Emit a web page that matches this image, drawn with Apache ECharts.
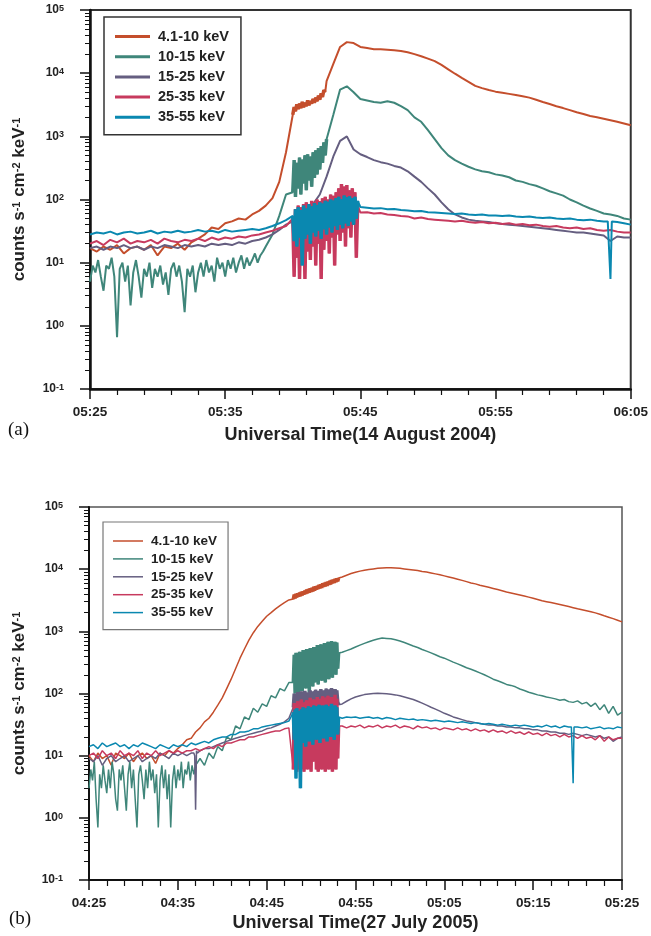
<!DOCTYPE html>
<html>
<head>
<meta charset="utf-8">
<script src="https://cdn.jsdelivr.net/npm/echarts@6/dist/echarts.min.js"></script>
<style>
html, body { margin: 0; padding: 0; background: #fff; }
#chart { width: 651px; height: 936px; }
</style>
</head>
<body>
<div id="chart"></div>
<script>
// energy bands and their colours
const bands = ['4.1-10 keV', '10-15 keV', '15-25 keV', '25-35 keV', '35-55 keV'];
const colors = ['#c44e2c', '#3f867a', '#655e80', '#c73a5e', '#0a88b0'];

const ticksA = ['05:25', '05:35', '05:45', '05:55', '06:05'];
const ticksB = ['04:25', '04:35', '04:45', '04:55', '05:05', '05:15', '05:25'];
const minorLog = [0.2, 0.3, 0.4, 0.5, 0.6, 0.7, 0.8, 0.9, 2, 3, 4, 5, 6, 7, 8, 9,
  20, 30, 40, 50, 60, 70, 80, 90, 200, 300, 400, 500, 600, 700, 800, 900,
  2000, 3000, 4000, 5000, 6000, 7000, 8000, 9000,
  20000, 30000, 40000, 50000, 60000, 70000, 80000, 90000];

// (a) 14 August 2004: one value every 30 s from 05:25 (minutes 0..40)
const aOrange = [17, 15, 18, 16, 19, 14, 17, 18, 16, 19, 13, 18, 17, 20, 16, 21,
  24, 28, 36, 34, 42, 45, 50, 48, 58, 66, 80, 105, 190, 560,
  2000, 2900, 3300, 3800, 5000, 7500, 14000, 26000, 31000, 30000,
  26000, 25000, 24000, 24000, 23500, 23000, 22500, 21500, 20000, 18500,
  17000, 15500, 13500, 11500, 9800, 8400, 7300, 6300, 5800, 5400,
  5100, 4900, 4700, 4500, 4300, 4100, 3800, 3500, 3250, 3000,
  2800, 2600, 2400, 2250, 2100, 2000, 1900, 1800, 1700, 1600, 1500];
const aTeal = [5, 9, 7, 10, 0.7, 8, 2.1, 9, 6, 8, 4, 9, 7, 5, 1.7,
  8, 6, 10, 7, 12, 8, 11, 9, 13, 10, 13, 18, 28, 55, 120,
  200, 300, 400, 500, 600, 800, 2200, 5500, 6200, 5000,
  3900, 3700, 3500, 3400, 3600, 3400, 3000, 2600, 2000, 1700,
  1250, 900, 650, 500, 420, 370, 330, 300, 280, 270,
  250, 240, 225, 200, 190, 175, 165, 150, 135, 125,
  115, 100, 90, 80, 72, 66, 60, 58, 55, 50, 48];
const aPurple = [17, 18, 16, 18, 17, 19, 17, 18, 16, 18, 17, 19, 18, 17, 19,
  18, 19, 18, 20, 19, 20, 19, 21, 20, 22, 23, 25, 28, 33, 40,
  45, 55, 70, 85, 120, 230, 480, 850, 1000, 620,
  520, 470, 420, 390, 370, 340, 320, 280, 230, 190,
  150, 120, 90, 70, 58, 52, 48, 46, 45, 44,
  42, 41, 40, 39, 38, 37, 36, 35, 34, 33,
  32, 31, 30, 30, 29, 28, 27, 22, 26, 25, 25];
const aPink = [20, 22, 19, 23, 21, 24, 20, 22, 21, 23, 20, 24, 22, 21, 23,
  22, 24, 22, 25, 23, 25, 24, 26, 25, 27, 28, 30, 32, 35, 38,
  40, 45, 50, 55, 60, 65, 70, 75, 80, 70,
  62, 63, 60, 61, 58, 57, 55, 54, 50, 52,
  49, 48, 47, 46, 45, 46, 44, 43, 44, 42,
  43, 41, 42, 40, 41, 39, 40, 38, 37, 38,
  36, 35, 36, 34, 35, 33, 32, 33, 31, 30, 30];
const aBlue = [28, 30, 29, 31, 28, 30, 31, 29, 30, 32, 29, 31, 30, 32, 30,
  31, 33, 31, 32, 30, 33, 31, 32, 33, 34, 33, 35, 38, 42, 47,
  50, 55, 60, 65, 70, 75, 80, 85, 90, 80,
  76, 74, 72, 73, 70, 71, 68, 67, 65, 66,
  63, 62, 61, 60, 59, 60, 58, 57, 58, 56,
  56, 55, 56, 54, 53, 54, 52, 51, 52, 50,
  49, 50, 48, 47, 48, 46, 45, 44, 44, 42, 40];

// (a) 10-15 keV before the flare, one value every 12 s (minutes 0..13)
const aTealEarly = [5, 9, 7, 11, 6, 3.6, 9, 8, 12, 6,
  0.66, 8, 10, 5, 9, 2.1, 7, 11, 6, 2.8,
  8, 6, 10, 4, 8, 6, 9, 4.5, 7, 3.1,
  8, 10, 6, 9, 5, 1.65, 8, 6, 9, 3.4,
  7, 10, 6, 11, 7, 9, 5, 12, 8, 10,
  6, 11, 8, 12, 7, 10, 13, 8, 12, 9,
  11, 14, 10, 13, 15, 18];
// (a) 35-55 keV drop-out near 06:03, one value every 6 s from minute 38.3
const aBlueDrop = [45, 46, 5.5, 45, 44];

// (a) fast-sampled stretches, one value every 6 s from minute 15
const aOrangeBurst = [2200, 2900, 2500, 3200, 2700, 3300, 2800, 3500, 2900, 3400,
  3000, 3700, 3100, 3600, 3300, 3900, 3400, 4100, 3600, 4400,
  3800, 4800, 4200, 5400, 5000];
const aTealBurst = [130, 420, 110, 380, 150, 460, 120, 430, 180, 500,
  140, 520, 200, 480, 160, 560, 220, 600, 250, 650,
  300, 700, 380, 800, 500, 900];
const aPinkBurst = [50, 6, 70, 12, 80, 5.5, 75, 14, 85, 5.5,
  90, 15, 80, 11, 95, 18, 90, 9, 100, 20,
  95, 5.5, 105, 16, 110, 22, 100, 14, 120, 25,
  115, 9, 130, 28, 150, 22, 175, 30, 160, 18,
  170, 35, 140, 25, 150, 40, 130, 12, 80];
const aBlueBurst = [55, 22, 70, 18, 75, 25, 68, 9, 80, 24,
  72, 28, 85, 20, 78, 30, 88, 26, 82, 32,
  90, 24, 86, 34, 95, 28, 92, 36, 100, 30,
  96, 38, 105, 33, 110, 40, 102, 35, 115, 42,
  108, 38, 112, 45, 105, 40, 110, 50, 95];

// (b) 27 July 2005: one value every 30 s from 04:25 (minutes 0..60)
const bOrange = [10, 8, 11, 9, 10, 7, 11, 10, 9, 11, 8, 10, 11, 9, 10, 7.5, 11, 10, 12, 11,
  13, 15, 18, 19, 24, 28, 35, 40, 50, 65,
  85, 120, 170, 250, 370, 520, 720, 950, 1200, 1450,
  1750, 2000, 2300, 2600, 2900, 3200, 3500, 3900, 4300, 4700,
  5100, 5500, 5900, 6300, 6700, 7000, 7100, 7500, 8000, 8500,
  8900, 9300, 9600, 9900, 10100, 10300, 10400, 10500, 10500, 10400,
  10300, 10100, 9900, 9700, 9500, 9200, 9000, 8700, 8400, 8100,
  7800, 7500, 7200, 6900, 6600, 6300, 6000, 5800, 5500, 5300,
  5100, 4900, 4700, 4500, 4300, 4150, 4000, 3850, 3700, 3550,
  3400, 3250, 3100, 3000, 2900, 2800, 2700, 2600, 2500, 2400,
  2300, 2220, 2140, 2060, 1980, 1880, 1780, 1690, 1600, 1510, 1420];
const bTeal = [3, 6, 0.7, 5, 2, 7, 3, 5, 1.4, 6, 4, 0.7, 5, 3, 8, 0.7, 4, 6, 3, 0.7,
  5, 7, 4, 6, 6, 9, 7, 11, 9, 14,
  12, 20, 18, 30, 27, 42, 38, 58, 50, 68,
  62, 92, 85, 120, 110, 150, 200, 250, 300, 350,
  400, 450, 500, 550, 600, 650, 420, 460, 490, 520,
  560, 600, 640, 680, 720, 750, 780, 770, 760, 730,
  700, 660, 620, 580, 550, 510, 480, 450, 420, 390,
  370, 345, 320, 300, 280, 260, 245, 230, 215, 200,
  185, 170, 160, 150, 140, 135, 128, 118, 112, 105,
  100, 95, 92, 88, 85, 82, 78, 80, 74, 72,
  76, 68, 72, 62, 70, 55, 66, 48, 62, 45, 50];
const bPurple = [9, 8, 10, 7, 9, 10, 8, 9, 10, 8, 9, 10, 8, 9, 10, 9, 11, 10, 9, 11,
  10, 11, 10, 11, 12, 12, 13, 13, 14, 15,
  16, 17, 18, 19, 20, 21, 22, 23, 24, 25,
  27, 28, 30, 32, 35, 40, 45, 50, 55, 58,
  60, 62, 64, 66, 68, 70, 62, 68, 75, 82,
  88, 92, 96, 98, 100, 101, 100, 99, 97, 95,
  92, 88, 84, 80, 75, 70, 65, 60, 56, 52,
  48, 45, 42, 40, 38, 36, 35, 34, 33, 32,
  31, 31, 30, 30, 29, 29, 28, 28, 27, 27,
  26, 26, 25, 25, 24, 24, 23, 23, 22, 23,
  22, 21, 22, 21, 20, 21, 19, 20, 17, 19, 20];
const bPink = [10, 11, 9, 12, 10, 11, 9, 12, 10, 11, 10, 12, 9, 11, 10, 12, 10, 11, 12, 11,
  12, 11, 12, 12, 13, 12, 13, 14, 13, 15,
  14, 16, 16, 17, 18, 18, 20, 20, 21, 22,
  23, 24, 25, 25, 27, 28, 28, 28, 28, 28,
  28, 28, 28, 28, 28, 28, 29, 30, 28, 30,
  29, 31, 28, 30, 29, 31, 28, 30, 29, 31,
  28, 30, 29, 27, 30, 28, 29, 27, 28, 26,
  28, 27, 26, 28, 26, 27, 25, 27, 25, 26,
  24, 26, 24, 25, 23, 25, 23, 24, 22, 24,
  22, 23, 21, 23, 21, 22, 20, 22, 20, 21,
  19, 21, 19, 20, 18, 21, 17, 20, 18, 19, 19];
const bBlue = [14, 15, 13, 16, 14, 15, 16, 14, 15, 13, 15, 14, 16, 15, 14, 13, 15, 14, 13, 15,
  14, 15, 14, 16, 15, 16, 17, 16, 18, 19,
  20, 20, 22, 22, 24, 24, 25, 27, 27, 29,
  30, 31, 32, 33, 34, 36, 38, 38, 38, 38,
  38, 38, 38, 38, 38, 38, 42, 40, 42, 41,
  42, 40, 41, 42, 40, 41, 39, 41, 40, 38,
  40, 39, 38, 39, 37, 38, 37, 36, 37, 36,
  35, 36, 35, 34, 35, 34, 33, 34, 33, 32,
  33, 32, 31, 32, 31, 30, 31, 30, 31, 30,
  29, 30, 29, 31, 29, 30, 28, 30, 29, 29,
  29, 28, 29, 27, 28, 29, 27, 28, 27, 29, 28];

// (b) 10-15 keV before the flare, one value every 12 s (minutes 0..12)
const bTealEarly = [3, 6, 4, 8, 2, 0.7, 5, 3, 7, 4,
  2.5, 6, 3, 8, 5, 2, 1.3, 6, 4, 7,
  3, 1.3, 5, 8, 3, 6, 2, 0.7, 5, 7,
  4, 2, 6, 3, 8, 4, 6, 2.5, 5, 0.7,
  4, 7, 3, 6, 2, 5, 0.7, 4, 7, 3,
  6, 4, 8, 3, 6, 5, 8, 4, 7, 5, 7];
// (b) single-sample drop-outs, one value every 6 s
const bPurpleDrop = [11, 10, 1.35, 12, 11];   // from minute 11.8
const bBlueDrop = [29, 30, 3.6, 29, 28];      // from minute 54.3

// (b) fast-sampled stretch 04:48-04:53, one value every 6 s from minute 23
const bOrangeBurst = [3300, 3900, 3400, 4000, 3500, 4100, 3600, 4200, 3700, 4300,
  3800, 4400, 3900, 4500, 4000, 4700, 4100, 4800, 4200, 4900,
  4300, 5000, 4400, 5200, 4500, 5300, 4700, 5400, 4800, 5600,
  4900, 5700, 5000, 5900, 5200, 6000, 5300, 6200, 5400, 6300,
  5600, 6500, 5700, 6700, 5900, 6800, 6000, 7000, 6200, 7100, 6400, 7200];
const bTealBurst = [150, 420, 100, 450, 130, 380, 95, 470, 140, 430,
  110, 500, 160, 460, 120, 520, 150, 480, 105, 540,
  170, 500, 130, 560, 150, 520, 180, 600, 140, 560,
  190, 620, 160, 580, 200, 650, 150, 600, 210, 680,
  170, 620, 220, 700, 180, 640, 230, 680, 200, 660, 250, 450];
const bPurpleBurst = [60, 100, 55, 95, 65, 105, 58, 98, 62, 108,
  56, 100, 66, 110, 60, 96, 64, 104, 58, 112,
  62, 100, 68, 108, 60, 115, 66, 104, 70, 110,
  62, 118, 68, 106, 72, 112, 64, 120, 70, 108,
  74, 116, 66, 122, 72, 110, 76, 118, 70, 112, 74, 66];
const bPinkBurst = [6, 70, 8, 65, 5.5, 75, 10, 60, 6, 80,
  12, 68, 5.5, 72, 9, 78, 6, 66, 14, 85,
  5.5, 70, 8, 80, 11, 74, 6, 88, 5.5, 76,
  9, 82, 6, 90, 12, 78, 5.5, 86, 8, 92,
  6, 80, 10, 88, 5.5, 84, 7, 95, 6, 82, 9, 30];
const bBlueBurst = [50, 18, 55, 4.3, 58, 15, 52, 20, 3, 56,
  16, 60, 22, 54, 14, 58, 25, 62, 17, 56,
  20, 60, 15, 64, 24, 58, 18, 62, 22, 66,
  16, 60, 26, 64, 19, 58, 23, 66, 17, 62,
  25, 60, 20, 68, 24, 62, 18, 64, 26, 60, 22, 42];

function track(t0, step, vals) {
  return vals.map((v, i) => [+(t0 + i * step).toFixed(2), v]);
}
// put a finer-sampled stretch in place of the slow samples it covers
function withBurst(main, burst) {
  if (!burst) return main;
  const b0 = burst[0][0], b1 = burst[burst.length - 1][0];
  return main.filter(p => p[0] < b0 || p[0] > b1).concat(burst).sort((p, q) => p[0] - q[0]);
}

const burstsA = [
  track(15, 0.1, aOrangeBurst), track(15, 0.1, aTealBurst), null,
  track(15, 0.1, aPinkBurst), track(15, 0.1, aBlueBurst)
];
const burstsB = [
  track(23, 0.1, bOrangeBurst), track(23, 0.1, bTealBurst), track(23, 0.1, bPurpleBurst),
  track(23, 0.1, bPinkBurst), track(23, 0.1, bBlueBurst)
];
const panelA = [
  withBurst(track(0, 0.5, aOrange), burstsA[0]),
  withBurst(withBurst(track(0, 0.5, aTeal), track(0, 0.2, aTealEarly)), burstsA[1]),
  track(0, 0.5, aPurple),
  withBurst(track(0, 0.5, aPink), burstsA[3]),
  withBurst(withBurst(track(0, 0.5, aBlue), burstsA[4]), track(38.3, 0.1, aBlueDrop))
];
const panelB = [
  withBurst(track(0, 0.5, bOrange), burstsB[0]),
  withBurst(withBurst(track(0, 0.5, bTeal), track(0, 0.2, bTealEarly)), burstsB[1]),
  withBurst(withBurst(track(0, 0.5, bPurple), burstsB[2]), track(11.8, 0.1, bPurpleDrop)),
  withBurst(track(0, 0.5, bPink), burstsB[3]),
  withBurst(withBurst(track(0, 0.5, bBlue), burstsB[4]), track(54.3, 0.1, bBlueDrop))
];

const font = '"Liberation Sans", Arial, sans-serif';
const ink = '#222';
const yName = '{n|counts s}{s|-1}{n| cm}{s|-2}{n| keV}{s|-1}';
const yNameRich = {
  n: { fontFamily: font, fontWeight: 'bold', fontSize: 17, color: ink },
  s: { fontFamily: font, fontWeight: 'bold', fontSize: 11, color: ink, verticalAlign: 'top' }
};
const powRich = {
  b: { fontFamily: font, fontWeight: 'bold', fontSize: 12, color: ink },
  s: { fontFamily: font, fontWeight: 'bold', fontSize: 9, color: ink, verticalAlign: 'top' }
};

function xAxis(grid, max, ticks, name, lw, gap) {
  return {
    gridIndex: grid, type: 'value', min: 0, max: max, interval: 10,
    name: name, nameLocation: 'middle', nameGap: gap,
    nameTextStyle: { fontFamily: font, fontWeight: 'bold', fontSize: 18, color: ink },
    axisLine: { lineStyle: { color: '#111', width: lw } },
    axisTick: { length: 10, lineStyle: { color: '#111', width: 1.5 } },
    minorTick: { show: true, splitNumber: 5, length: 6, lineStyle: { color: '#111', width: 1.2 } },
    axisLabel: {
      margin: 16, fontFamily: font, fontWeight: 'bold', fontSize: 13.5, color: ink,
      formatter: v => ticks[Math.round(v / 10)]
    },
    splitLine: { show: false }
  };
}
function yAxis(grid, lw, gap) {
  return {
    gridIndex: grid, type: 'log', logBase: 10, min: 0.1, max: 100000,
    name: yName, nameLocation: 'middle', nameRotate: 90, nameGap: gap,
    nameTextStyle: { rich: yNameRich },
    axisLine: { lineStyle: { color: '#111', width: lw } },
    axisTick: { length: 10, lineStyle: { color: '#111', width: 1.5 } },
    axisLabel: {
      margin: 26,
      formatter: v => '{b|10}{s|' + Math.round(Math.log10(v)) + '}',
      rich: powRich
    },
    splitLine: { show: false }
  };
}
function yMinor(grid) {
  return {
    gridIndex: grid, type: 'log', logBase: 10, min: 0.1, max: 100000, position: 'left',
    axisLine: { show: false },
    axisTick: { length: 5, customValues: minorLog, lineStyle: { color: '#111', width: 1 } },
    axisLabel: { show: false },
    splitLine: { show: false }
  };
}

// each band: the full trace, then its fast-sampled stretch drawn thick on top
const series = [];
function addPanel(traces, bursts, xi, yi, lw) {
  traces.forEach((d, i) => {
    series.push({
      name: bands[i], type: 'line', xAxisIndex: xi, yAxisIndex: yi, data: d,
      symbol: 'none', color: colors[i], lineStyle: { width: lw, color: colors[i] }
    });
    if (bursts[i]) {
      series.push({
        name: bands[i], type: 'line', xAxisIndex: xi, yAxisIndex: yi, data: bursts[i],
        symbol: 'none', color: colors[i], lineStyle: { width: 3.5, color: colors[i], join: 'bevel' }
      });
    }
  });
}
addPanel(panelA, burstsA, 0, 0, 2);
addPanel(panelB, burstsB, 1, 2, 1.5);

const chart = echarts.init(document.getElementById('chart'));
chart.setOption({
  animation: false,
  backgroundColor: '#fff',
  grid: [
    { left: 90, top: 10, width: 543, height: 379, show: true, borderColor: '#333', borderWidth: 2, backgroundColor: 'transparent' },
    { left: 89, top: 507, width: 533, height: 373, show: true, borderColor: '#555', borderWidth: 1.5, backgroundColor: 'transparent' }
  ],
  legend: [
    {
      data: bands, orient: 'vertical', left: 104, top: 17, icon: 'rect',
      padding: [12, 12, 10, 11], itemWidth: 35, itemHeight: 3, itemGap: 5.2,
      borderColor: '#333', borderWidth: 1.5,
      textStyle: { fontFamily: font, fontWeight: 'bold', fontSize: 14.5, lineHeight: 14, color: ink, padding: [0, 0, 0, 3] }
    },
    {
      data: bands, orient: 'vertical', left: 103, top: 522, icon: 'rect',
      padding: [12, 11, 10, 10], itemWidth: 30, itemHeight: 1.5, itemGap: 3.9,
      borderColor: '#777', borderWidth: 1.2,
      textStyle: { fontFamily: font, fontWeight: 'bold', fontSize: 13.5, lineHeight: 13, color: ink, padding: [0, 0, 0, 3] }
    }
  ],
  xAxis: [
    xAxis(0, 40, ticksA, 'Universal Time(14 August 2004)', 2.5, 37),
    xAxis(1, 60, ticksB, 'Universal Time(27 July 2005)', 2, 34)
  ],
  yAxis: [yAxis(0, 2.5, 62), yMinor(0), yAxis(1, 2, 61), yMinor(1)],
  graphic: [
    { type: 'text', left: 8, top: 421, style: { text: '(a)', font: '19px "Liberation Serif", "Times New Roman", serif', fill: '#111' } },
    { type: 'text', left: 9, top: 910, style: { text: '(b)', font: '19px "Liberation Serif", "Times New Roman", serif', fill: '#111' } }
  ],
  series: series
});
</script>
</body>
</html>
